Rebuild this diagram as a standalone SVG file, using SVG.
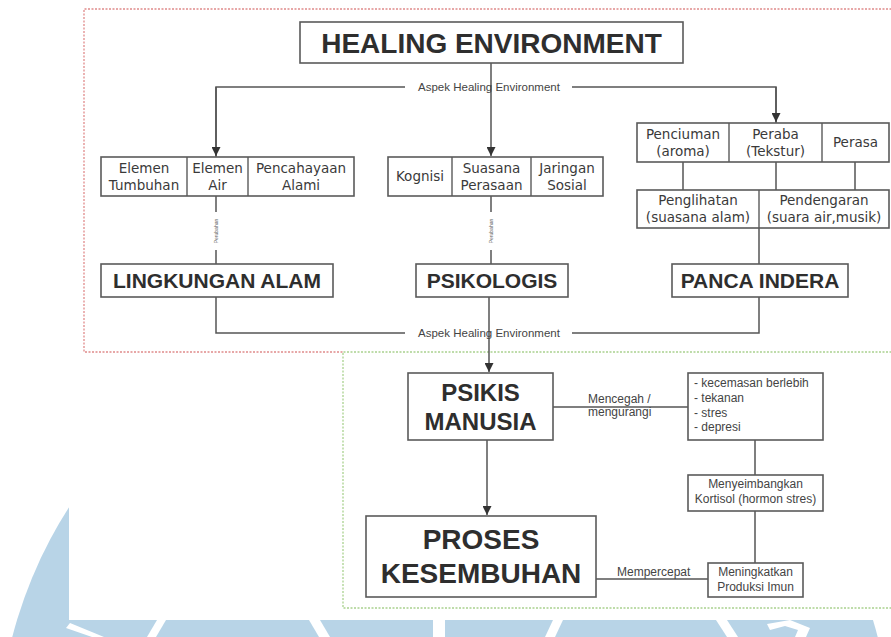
<svg xmlns="http://www.w3.org/2000/svg" width="891" height="637" viewBox="0 0 891 637">
<defs>
<style>
.box{fill:#fff;stroke:#5a5a5a;stroke-width:1.6}
.div{stroke:#5a5a5a;stroke-width:1.4}
.ln{fill:none;stroke:#555;stroke-width:1.5}
.big{font-family:"Liberation Sans",Arial,sans-serif;font-weight:bold;fill:#2e2e2e;text-anchor:middle}
.sm{font-family:"DejaVu Sans",Verdana,sans-serif;font-size:13.5px;fill:#3a3a3a;text-anchor:middle}
.nr{font-family:"Liberation Sans",Arial,sans-serif;font-size:12px;fill:#444}
.lab{font-family:"Liberation Sans",Arial,sans-serif;font-size:11.5px;fill:#444;text-anchor:middle}
.tiny{font-family:"Liberation Sans",Arial,sans-serif;font-size:5px;fill:#666;text-anchor:middle}
</style>
<marker id="ah" viewBox="0 0 10 10" refX="10" refY="5" markerWidth="9" markerHeight="9" markerUnits="userSpaceOnUse" orient="auto">
<path d="M0,0 L10,5 L0,10 z" fill="#333"/>
</marker>
</defs>

<!-- watermark background -->
<g id="watermark">
<rect width="891" height="637" fill="#fff"/>
<circle cx="445" cy="749" r="447" fill="#b8d4e7"/>
<rect x="69" y="0" width="822" height="620" fill="#fff"/>
<polygon points="66,628 70,623 104,637 92,637" fill="#fff"/>
<polygon points="147,637 156,637 166,620 157,620" fill="#fff"/>
<polygon points="309,620 320,620 330,637 319,637" fill="#fff"/>
<rect x="433" y="620" width="12" height="17" fill="#fff"/>
<polygon points="545,637 555,637 563,620 553,620" fill="#fff"/>
<polygon points="716,620 727,620 738,637 727,637" fill="#fff"/>
<polygon points="767,624 790,620 810,628 806,637 795,637 798,630 785,626 770,630" fill="#fff"/>
</g>

<!-- region borders -->
<g id="regions">
<path d="M895,9 H84 V352 H343" fill="none" stroke="#e08a8a" stroke-width="1.3" stroke-dasharray="2,1.5"/>
<path d="M895,352 H343 V608 H895" fill="none" stroke="#a9d18e" stroke-width="1.3" stroke-dasharray="2,1.5"/>
</g>

<!-- connectors -->
<g id="connectors">
<path class="ln" d="M491,63 V87"/>
<path class="ln" d="M216,157 V87 H405"/>
<path class="ln" d="M572,87 H776 V123"/>
<path class="ln" d="M216,87 V156" marker-end="url(#ah)"/>
<path class="ln" d="M491,87 V156" marker-end="url(#ah)"/>
<path class="ln" d="M776,87 V122" marker-end="url(#ah)"/>
<text class="lab" x="489" y="91" font-size="11">Aspek Healing Environment</text>

<path class="ln" d="M216,196 V264" stroke-width="1.2"/>
<rect x="212" y="212" width="8" height="38" fill="#fff"/>
<text class="tiny" transform="translate(218,231) rotate(-90)">Perubahan</text>
<path class="ln" d="M491,196 V264" stroke-width="1.2"/>
<rect x="487" y="212" width="8" height="38" fill="#fff"/>
<text class="tiny" transform="translate(493,231) rotate(-90)">Perubahan</text>

<path class="ln" d="M683,162 V190 M776,162 V190 M855,162 V190"/>
<path class="ln" d="M759,228 V264"/>

<path class="ln" d="M216,297 V333 H405"/>
<path class="ln" d="M572,333 H759 V297"/>
<path class="ln" d="M489,297 V372" marker-end="url(#ah)"/>
<text class="lab" x="489" y="337" font-size="11">Aspek Healing Environment</text>

<path class="ln" d="M553,407 H688"/>
<text class="nr" x="588" y="403">Mencegah /</text>
<text class="nr" x="588" y="416">mengurangi</text>
<path class="ln" d="M487,440 V515" marker-end="url(#ah)"/>
<path class="ln" d="M755,440 V475"/>
<path class="ln" d="M755,511 V563"/>
<path class="ln" d="M596,579 H708"/>
<text class="nr" x="617" y="576">Mempercepat</text>
</g>

<!-- nodes -->
<g id="healing-environment">
<rect class="box" x="300" y="22" width="383" height="41"/>
<text class="big" x="491.5" y="53" font-size="28">HEALING ENVIRONMENT</text>
</g>

<g id="lingkungan-elements">
<rect class="box" x="101" y="157" width="253" height="39"/>
<line class="div" x1="187" y1="157" x2="187" y2="196"/>
<line class="div" x1="248" y1="157" x2="248" y2="196"/>
<text class="sm" x="144" y="173">Elemen</text>
<text class="sm" x="144" y="190">Tumbuhan</text>
<text class="sm" x="217.5" y="173">Elemen</text>
<text class="sm" x="217.5" y="190">Air</text>
<text class="sm" x="301" y="173">Pencahayaan</text>
<text class="sm" x="301" y="190">Alami</text>
</g>

<g id="psikologis-elements">
<rect class="box" x="388" y="157" width="215" height="39"/>
<line class="div" x1="452" y1="157" x2="452" y2="196"/>
<line class="div" x1="531" y1="157" x2="531" y2="196"/>
<text class="sm" x="420" y="181">Kognisi</text>
<text class="sm" x="491.5" y="173">Suasana</text>
<text class="sm" x="491.5" y="190">Perasaan</text>
<text class="sm" x="567" y="173">Jaringan</text>
<text class="sm" x="567" y="190">Sosial</text>
</g>

<g id="indera-top">
<rect class="box" x="637" y="123" width="252" height="39"/>
<line class="div" x1="729" y1="123" x2="729" y2="162"/>
<line class="div" x1="822" y1="123" x2="822" y2="162"/>
<text class="sm" x="683" y="139">Penciuman</text>
<text class="sm" x="683" y="156">(aroma)</text>
<text class="sm" x="775.5" y="139">Peraba</text>
<text class="sm" x="775.5" y="156">(Tekstur)</text>
<text class="sm" x="855.5" y="147">Perasa</text>
</g>

<g id="indera-bottom">
<rect class="box" x="637" y="190" width="252" height="38"/>
<line class="div" x1="759" y1="190" x2="759" y2="228"/>
<text class="sm" x="698" y="205">Penglihatan</text>
<text class="sm" x="698" y="222">(suasana alam)</text>
<text class="sm" x="824" y="205">Pendengaran</text>
<text class="sm" x="824" y="222">(suara air,musik)</text>
</g>

<g id="lingkungan-alam">
<rect class="box" x="101" y="264" width="232" height="33"/>
<text class="big" x="217" y="288" font-size="21">LINGKUNGAN ALAM</text>
</g>

<g id="psikologis">
<rect class="box" x="416" y="264" width="152" height="33"/>
<text class="big" x="492" y="288" font-size="21">PSIKOLOGIS</text>
</g>

<g id="panca-indera">
<rect class="box" x="672" y="264" width="176" height="33"/>
<text class="big" x="760" y="288" font-size="21">PANCA INDERA</text>
</g>

<g id="psikis-manusia">
<rect class="box" x="408" y="373" width="145" height="67"/>
<text class="big" x="480.5" y="401" font-size="24">PSIKIS</text>
<text class="big" x="480.5" y="430" font-size="24">MANUSIA</text>
</g>

<g id="gangguan">
<rect class="box" x="688" y="373" width="135" height="67"/>
<text class="nr" x="694" y="387">- kecemasan berlebih</text>
<text class="nr" x="694" y="402">- tekanan</text>
<text class="nr" x="694" y="417">- stres</text>
<text class="nr" x="694" y="431">- depresi</text>
</g>

<g id="kortisol">
<rect class="box" x="688" y="475" width="135" height="36"/>
<text class="nr" x="755.5" y="488" text-anchor="middle">Menyeimbangkan</text>
<text class="nr" x="755.5" y="503" text-anchor="middle">Kortisol (hormon stres)</text>
</g>

<g id="imun">
<rect class="box" x="708" y="563" width="95" height="34"/>
<text class="nr" x="755.5" y="576" text-anchor="middle">Meningkatkan</text>
<text class="nr" x="755.5" y="591" text-anchor="middle">Produksi Imun</text>
</g>

<g id="proses-kesembuhan">
<rect class="box" x="366" y="516" width="230" height="81"/>
<text class="big" x="481" y="549" font-size="28">PROSES</text>
<text class="big" x="481" y="583" font-size="28">KESEMBUHAN</text>
</g>
</svg>
